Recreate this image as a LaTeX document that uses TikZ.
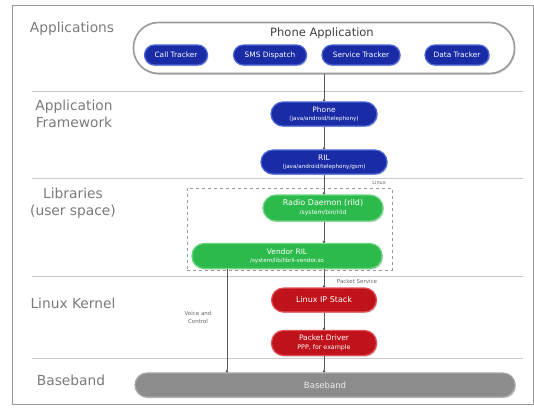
\documentclass[tikz,border=0pt]{standalone}
\usepackage{fontspec}
\setmainfont{DejaVu Sans}
\usetikzlibrary{arrows.meta,shadows}
\definecolor{pblue}{HTML}{1A2BA6}
\definecolor{pblueedge}{HTML}{4A63D8}
\definecolor{pgreen}{HTML}{2DBA4C}
\definecolor{pgreenedge}{HTML}{6BD67F}
\definecolor{pred}{HTML}{C0121A}
\definecolor{prededge}{HTML}{E05058}
\definecolor{pgrey}{HTML}{8C8C8C}
\definecolor{labgrey}{HTML}{7A7A7A}
\definecolor{seplgrey}{HTML}{C8C8C8}
\tikzset{
  pill/.style={rounded corners=12pt, line width=1.2pt, text=white, inner sep=0pt,
    align=center, font=\fontsize{7}{8}\selectfont,
    drop shadow={shadow xshift=1pt, shadow yshift=-1.2pt, fill=black!35, opacity=0.5}},
  bluepill/.style={pill, fill=pblue, draw=pblueedge},
  smallpill/.style={bluepill, rounded corners=10pt, minimum height=20pt, font=\fontsize{7.4}{8}\selectfont},
  greenpill/.style={pill, fill=pgreen, draw=pgreenedge},
  redpill/.style={pill, fill=pred, draw=prededge},
  greypill/.style={pill, fill=pgrey, draw=black!35, text=white!85!pgrey},
  seclabel/.style={text=labgrey, font=\fontsize{13.8}{16.5}\selectfont, align=center},
  sepline/.style={draw=seplgrey, line width=0.8pt},
  conn/.style={draw=black!65, line width=0.8pt, -{Circle[length=2.4pt]}},
  smalllab/.style={text=black!60, font=\fontsize{5.5}{8}\selectfont, align=center}
}
\begin{document}
\begin{tikzpicture}[x=1pt,y=-1pt]
\useasboundingbox (0,0) rectangle (534,408);
\draw[draw=black!40, line width=1pt] (12,5) rectangle (533,404);
% separators
\foreach \yy in {91,178,276,358}
  \draw[sepline] (32,\yy) -- (523,\yy);
% section labels
\node[seclabel] (lapp) at (72,29) {Applications};
\node[seclabel] (lfw) at (74,114) {Application\\Framework};
\node[seclabel] (llib) at (73,203) {Libraries\\(user space)};
\node[seclabel] (lker) at (73,303) {Linux Kernel};
\node[seclabel] (lbb) at (71,380) {Baseband};
% phone application container
\node[draw=black!40, line width=1.6pt, rounded corners=25pt, fill=white,
  minimum width=381pt, minimum height=51pt,
  drop shadow={shadow xshift=1pt, shadow yshift=-1.5pt, fill=black!30, opacity=0.4}]
  (phoneapp) at (324,48) {};
\node[text=black!75, font=\fontsize{11.5}{12}\selectfont] (paplab) at (322,33) {Phone Application};
\node[smallpill, minimum width=63pt] (calltr) at (176,55) {Call Tracker};
\node[smallpill, minimum width=73pt] (smsd) at (270,55) {SMS Dispatch};
\node[smallpill, minimum width=78pt] (servtr) at (361,55) {Service Tracker};
\node[smallpill, minimum width=64pt] (datatr) at (457,55) {Data Tracker};
% framework
\node[bluepill, minimum width=106pt, minimum height=24pt, font=\fontsize{7.5}{8}\selectfont] (phone) at (324,114)
  {Phone\\{\fontsize{5.6}{6}\selectfont (java/android/telephony)}};
\node[bluepill, minimum width=126pt, minimum height=24pt, font=\fontsize{7.5}{8}\selectfont] (ril) at (324,162)
  {RIL\\{\fontsize{5.6}{6}\selectfont (java/android/telephony/gsm)}};
% libraries
\node[draw=black!40, dashed, line width=0.7pt, minimum width=205pt, minimum height=82pt, inner sep=0pt]
  (linuxbox) at (289.5,229) {};
\node[smalllab, font=\fontsize{5}{6}\selectfont, anchor=south east] (linuxlab) at ([xshift=-3pt,yshift=-0.5pt]linuxbox.north east) {Linux};
\node[greenpill, rounded corners=13pt, minimum width=120pt, minimum height=26pt, font=\fontsize{8}{9}\selectfont] (rild) at (323,208)
  {Radio Daemon (rild)\\{\fontsize{6}{6.5}\selectfont /system/bin/rild}};
\node[greenpill, minimum width=190pt, minimum height=25pt, font=\fontsize{7.5}{8.5}\selectfont] (vril) at (287,256)
  {Vendor RIL\\{\fontsize{5.6}{6}\selectfont /system/lib/libril-vendor.so}};
% kernel
\node[redpill, minimum width=105pt, minimum height=24pt, font=\fontsize{8}{9}\selectfont] (ipstack) at (324,300) {Linux IP Stack};
\node[redpill, minimum width=105pt, minimum height=25pt, font=\fontsize{7.5}{8.5}\selectfont] (pdrv) at (324,343)
  {Packet Driver\\{\fontsize{6.3}{7}\selectfont PPP, for example}};
% baseband
\node[greypill, minimum width=380pt, minimum height=24pt, font=\fontsize{8.5}{9}\selectfont] (bb) at (325,385) {Baseband};
% labels
\node[smalllab] (pslab) at (357,281) {Packet Service};
\node[smalllab] (vclab) at (198,317) {Voice and\\Control};
\coordinate (vx) at (227,0);
% connectors
\draw[conn] (phoneapp.south) -- (phone.north);
\draw[conn] (phone.south) -- (ril.north);
\draw[conn] (ril.south) -- (rild.north -| ril.south);
\draw[conn] (rild.south -| ril.south) -- (vril.north -| ril.south);
\draw[conn] (vril.south -| ipstack.north) -- (ipstack.north);
\draw[conn] (ipstack.south) -- (pdrv.north);
\draw[conn] (pdrv.south) -- (bb.north -| pdrv.south);
\draw[conn] (vril.south -| vx) -- (bb.north -| vx);
\end{tikzpicture}
\end{document}
